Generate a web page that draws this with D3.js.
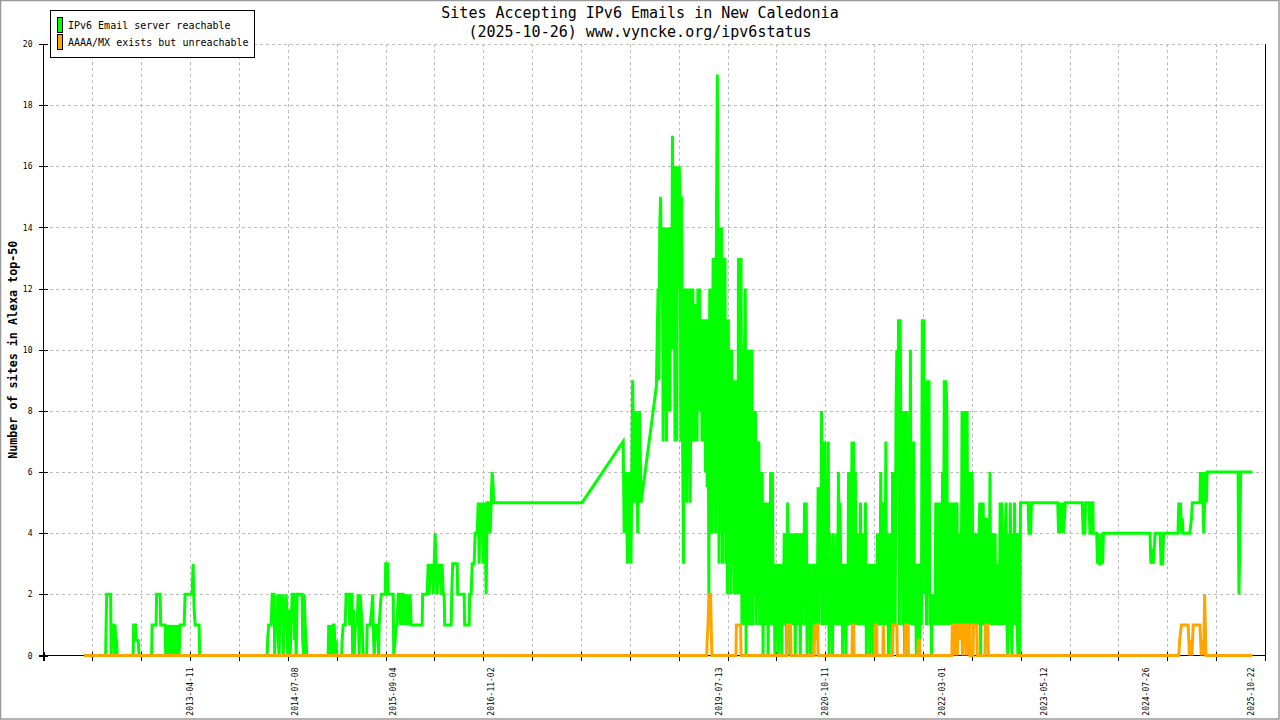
<!DOCTYPE html>
<meta charset="utf-8">
<html>
<style>
body { margin: 0; background: #fff; }
svg { display: block; background: #fff; font-family: "DejaVu Sans Mono", monospace; }
.grid line { stroke: #bdbdbd; stroke-width: 1; stroke-dasharray: 3,3; shape-rendering: crispEdges; }
.axis line { stroke: #000; shape-rendering: crispEdges; }
.series { fill: none; stroke-width: 3; }
</style>
<body>
<script src="https://cdnjs.cloudflare.com/ajax/libs/d3/7.8.5/d3.min.js"></script>
<script>
	// dates written on the time axis
	var xLabels = ["2013-04-11", "2014-07-08", "2015-09-04", "2016-11-02", "2019-07-13",
		"2020-10-11", "2022-03-01", "2023-05-12", "2024-07-26", "2025-10-22"];
	var xDomain = ["2011-07-18", "2025-12-20"];
	var yTicks = [0, 2, 4, 6, 8, 10, 12, 14, 16, 18, 20];

	var seriesNames = ["IPv6 Email server reachable", "AAAA/MX exists but unreachable"];
	var seriesColors = ["#00ff00", "#ffa500"];

	// [decimal year, sites]
	var reachable = [
		[2012.022,0],[2012.276,0],[2012.288,2],[2012.335,2],[2012.341,0],[2012.353,1],[2012.376,1],[2012.382,0],[2012.388,1],[2012.394,0.5],[2012.406,0.5],[2012.412,0],
		[2012.601,0],[2012.607,1],[2012.630,1],[2012.636,0.5],[2012.660,0.5],[2012.672,0],
		[2012.819,0],[2012.825,1],[2012.872,1],[2012.878,2],[2012.920,2],[2012.926,1],[2012.979,1],[2012.985,0],[2012.997,1],[2013.002,0],[2013.014,1],[2013.026,0.5],[2013.038,0],[2013.050,1],[2013.061,0.5],[2013.073,0],[2013.085,1],[2013.097,0.5],[2013.109,0],[2013.120,1],[2013.132,0.5],[2013.144,0],[2013.156,1],[2013.203,1],[2013.215,2],[2013.298,2],[2013.309,3],[2013.321,1.5],[2013.333,1],[2013.380,1],[2013.386,0],
		[2014.183,0],[2014.189,0.5],[2014.201,1],[2014.231,1],[2014.243,2],[2014.266,2],[2014.272,0],[2014.278,1],[2014.302,1],[2014.308,2],[2014.314,0.5],[2014.325,0],[2014.337,2],[2014.349,1.5],[2014.361,1],[2014.367,2],[2014.373,0],[2014.384,1],[2014.396,1.5],[2014.408,2],[2014.420,1],[2014.426,0],[2014.432,1],[2014.443,1.5],[2014.455,0],[2014.467,1],[2014.479,2],[2014.502,2],[2014.508,0.5],[2014.514,1.5],[2014.526,0],[2014.538,2],[2014.597,2],[2014.603,0.5],[2014.615,0],[2014.621,2],[2014.632,1],[2014.644,0.5],[2014.650,0],
		[2014.904,0],[2014.910,1],[2014.922,0.5],[2014.928,0],[2014.940,1],[2014.951,0],[2014.963,1],[2014.975,1],[2014.987,0],[2014.999,0.5],[2015.004,0],
		[2015.063,0],[2015.069,0.5],[2015.081,1],[2015.105,1],[2015.116,2],[2015.152,2],[2015.158,1],[2015.164,2],[2015.187,2],[2015.193,0],[2015.205,1.5],[2015.211,0],[2015.223,1],[2015.246,1],[2015.258,2],[2015.270,0],[2015.282,2],[2015.294,1.5],[2015.305,1],[2015.317,0],
		[2015.359,0],[2015.364,1],[2015.400,1],[2015.418,1.5],[2015.430,2],[2015.435,1],[2015.447,0],[2015.459,0.5],[2015.471,1],[2015.494,1],[2015.500,0],[2015.506,1],[2015.518,1.5],[2015.530,2],[2015.577,2],[2015.583,3],[2015.607,3],[2015.613,2],[2015.672,2],[2015.678,0],[2015.695,0.5],[2015.707,1],[2015.719,1],[2015.731,2],[2015.754,2],[2015.760,1],[2015.766,2],[2015.790,2],[2015.796,1],[2015.802,1.5],[2015.813,2],[2015.825,1],[2015.837,2],[2015.849,1],[2015.861,1.5],[2015.872,2],[2015.884,1],
		[2016.014,1],[2016.020,2],[2016.073,2],[2016.085,3],[2016.097,2],[2016.108,3],[2016.120,2.5],[2016.132,3],[2016.144,2],[2016.156,3],[2016.167,4],[2016.179,3],[2016.191,2],[2016.203,3],[2016.215,2.5],[2016.226,3],[2016.238,2],[2016.250,3],[2016.262,2],[2016.274,2],[2016.280,1],[2016.357,1],[2016.363,2],[2016.375,3],[2016.428,3],[2016.434,2],[2016.510,2],[2016.516,1],[2016.569,1],[2016.575,2],[2016.593,2],[2016.605,3],[2016.628,3],[2016.640,4],[2016.664,4],[2016.676,5],[2016.687,3],[2016.699,5],[2016.711,4],[2016.723,5],[2016.735,3],[2016.746,5],[2016.758,4],[2016.770,2],[2016.782,5],[2016.794,5],[2016.817,4],[2016.829,5],[2016.841,6],[2016.853,5.5],[2016.859,5],
		[2017.903,5],[2018.388,7],
		[2018.40,4],[2018.42,6],[2018.44,3],[2018.46,6],[2018.48,3],[2018.50,9],[2018.52,5],[2018.54,8],[2018.56,4],[2018.58,8],[2018.60,5],[2018.78,8.8],
		[2018.80,12],[2018.81,9],[2018.82,14],[2018.83,15],[2018.84,12],[2018.85,14],[2018.86,7],[2018.87,14],[2018.88,8],[2018.89,14],
		[2018.90,7],[2018.91,14],[2018.92,8],[2018.93,14],[2018.94,8],[2018.95,14],[2018.96,10],[2018.97,17],[2018.98,10],[2018.99,16],
		[2019.00,7],[2019.01,16],[2019.02,7],[2019.03,16],[2019.04,12],[2019.05,16],[2019.06,15],[2019.07,7],[2019.08,15],[2019.09,7],
		[2019.10,3],[2019.11,12],[2019.12,6],[2019.13,12],[2019.14,5],[2019.15,12],[2019.16,6],[2019.17,12],[2019.18,5],[2019.19,12],
		[2019.20,7],[2019.21,12],[2019.22,7],[2019.23,11.5],[2019.24,7],[2019.25,11.5],[2019.26,7],[2019.27,12],[2019.28,8],[2019.29,12],
		[2019.30,8],[2019.31,11],[2019.32,7],[2019.33,11],[2019.34,7],[2019.35,11],[2019.36,6],[2019.37,11],[2019.38,5.5],[2019.39,11],
		[2019.40,2],[2019.41,12],[2019.42,4],[2019.43,12],[2019.44,4],[2019.45,13],[2019.46,5],[2019.47,13],[2019.48,4],[2019.49,14.5],
		[2019.50,19],[2019.51,14],[2019.52,3],[2019.53,14],[2019.54,4],[2019.55,14],[2019.56,3],[2019.57,13],[2019.58,4],[2019.59,13],
		[2019.60,3],[2019.61,11],[2019.62,2],[2019.63,11],[2019.64,3],[2019.65,10],[2019.66,2],[2019.67,10],[2019.68,3],[2019.69,9],
		[2019.70,2],[2019.71,9],[2019.72,2],[2019.73,9],[2019.74,2],[2019.75,13],[2019.76,2],[2019.77,10],[2019.78,13],[2019.79,1],
		[2019.80,10],[2019.81,1],[2019.82,10],[2019.83,12],[2019.84,0],[2019.85,10],[2019.86,1],[2019.87,10],[2019.88,1],[2019.89,10],
		[2019.90,1],[2019.91,10],[2019.92,1],[2019.93,8],[2019.94,2],[2019.95,8],[2019.96,1],[2019.97,7],[2019.98,2],[2019.99,7],
		[2020.00,1],[2020.01,6],[2020.02,1],[2020.03,6],[2020.04,0],[2020.05,5],[2020.06,1],[2020.07,5],[2020.08,1],[2020.09,5],
		[2020.10,0],[2020.11,5],[2020.12,1],[2020.13,6],[2020.14,1],[2020.15,6],[2020.16,1],[2020.17,3],[2020.18,0],[2020.19,3],
		[2020.20,1],[2020.21,3],[2020.22,0],[2020.23,3],[2020.24,1],[2020.25,3],[2020.26,0],[2020.27,3],[2020.28,1],[2020.29,4],
		[2020.30,1],[2020.31,4],[2020.32,0],[2020.33,5],[2020.34,1],[2020.35,4],[2020.36,0],[2020.37,4],[2020.38,1],[2020.39,4],
		[2020.40,1],[2020.41,4],[2020.42,0],[2020.43,4],[2020.44,1],[2020.45,4],[2020.46,1],[2020.47,4],[2020.48,0],[2020.49,4],
		[2020.50,1],[2020.51,4],[2020.52,2],[2020.53,5],[2020.54,1],[2020.55,5],[2020.56,0],[2020.57,3],[2020.58,1],[2020.59,3],
		[2020.60,0],[2020.61,2],[2020.62,1],[2020.63,3],[2020.64,0],[2020.65,3],[2020.66,1],[2020.67,3],[2020.68,1],[2020.69,5.5],
		[2020.70,1],[2020.71,5.5],[2020.72,2],[2020.73,8],[2020.74,1],[2020.75,7],[2020.76,1],[2020.77,7],[2020.78,1],[2020.79,4],
		[2020.80,1],[2020.81,7],[2020.82,0],[2020.83,4],[2020.84,1],[2020.85,3],[2020.86,0],[2020.87,4],[2020.88,1],[2020.89,3],
		[2020.90,1],[2020.91,4],[2020.92,1],[2020.93,6],[2020.94,1],[2020.95,5],[2020.96,1],[2020.97,3],[2020.98,0],[2020.99,3],
		[2021.00,1],[2021.01,3],[2021.02,0],[2021.03,3],[2021.04,1],[2021.05,6],[2021.06,1],[2021.07,6],[2021.08,1],[2021.09,7],
		[2021.10,1],[2021.11,7],[2021.12,1],[2021.13,6],[2021.14,1],[2021.15,4],[2021.16,1],[2021.17,4],[2021.18,1],[2021.19,5],
		[2021.20,1],[2021.21,4],[2021.22,1],[2021.23,4],[2021.24,1],[2021.25,5],[2021.26,0],[2021.27,3],[2021.28,1],[2021.29,3],
		[2021.30,0],[2021.31,3],[2021.32,1],[2021.33,3],[2021.34,0],[2021.35,3],[2021.36,1],[2021.37,3],[2021.38,0],[2021.39,4],
		[2021.40,1],[2021.41,4],[2021.42,1],[2021.43,6],[2021.44,1],[2021.45,5],[2021.46,1],[2021.47,5],[2021.48,1],[2021.49,7],
		[2021.50,1],[2021.51,4],[2021.52,0],[2021.53,4],[2021.54,1],[2021.55,4],[2021.56,0],[2021.57,6],[2021.58,1],[2021.59,6],
		[2021.60,1],[2021.61,8],[2021.62,10],[2021.63,6],[2021.64,11],[2021.65,1],[2021.66,11],[2021.67,5],[2021.68,8],[2021.69,1],
		[2021.70,8],[2021.71,0],[2021.72,8],[2021.73,1],[2021.74,8],[2021.75,0],[2021.76,7],[2021.77,1],[2021.78,10],[2021.79,1],
		[2021.80,7],[2021.81,1],[2021.82,7],[2021.83,1],[2021.84,3],[2021.85,0],[2021.86,3],[2021.87,1],[2021.88,3],[2021.89,0],
		[2021.90,3],[2021.91,1],[2021.92,11],[2021.93,3],[2021.94,11],[2021.95,2],[2021.96,6],[2021.97,1],[2021.98,9],[2021.99,2],
		[2022.00,9],[2022.01,1],[2022.02,2],[2022.03,0],[2022.04,2],[2022.05,1],[2022.06,2],[2022.07,1],[2022.08,5],[2022.09,1],
		[2022.10,5],[2022.11,1],[2022.12,5],[2022.13,1],[2022.14,5],[2022.15,1],[2022.16,6],[2022.17,1],[2022.18,9],[2022.19,1],
		[2022.20,9],[2022.21,8],[2022.22,1],[2022.23,5],[2022.24,1],[2022.25,5],[2022.26,1],[2022.27,5],[2022.28,1],[2022.29,5],
		[2022.30,1],[2022.31,5],[2022.32,1],[2022.33,5],[2022.34,1],[2022.35,4],[2022.36,1],[2022.37,4],[2022.38,1],[2022.39,8],
		[2022.40,1],[2022.41,8],[2022.42,1],[2022.43,8],[2022.44,1],[2022.45,8],[2022.46,1],[2022.47,6],[2022.48,0],[2022.49,6],
		[2022.50,1],[2022.51,6],[2022.52,1],[2022.53,4],[2022.54,1],[2022.55,4],[2022.56,1],[2022.57,4],[2022.58,1],[2022.59,4],
		[2022.60,5],[2022.61,0],[2022.62,5],[2022.63,1],[2022.64,5],[2022.65,1],[2022.66,4.5],[2022.67,1],[2022.68,4.5],[2022.69,1],
		[2022.70,4],[2022.71,1],[2022.72,6],[2022.73,1],[2022.74,4],[2022.75,1],[2022.76,4],[2022.77,1],[2022.78,4],[2022.79,1],
		[2022.80,3],[2022.81,1],[2022.82,3],[2022.83,1],[2022.84,5],[2022.85,1],[2022.86,5],[2022.87,1],[2022.88,4],[2022.89,1],
		[2022.90,4],[2022.91,5],[2022.92,1],[2022.93,0],[2022.94,4],[2022.95,1],[2022.96,5],[2022.97,1],[2022.98,0],[2022.99,4],
		[2023.00,1],[2023.01,5],[2023.02,1],[2023.03,4],[2023.04,1],[2023.05,0],[2023.06,4],[2023.07,0],[2023.08,5],
		[2023.17,5],[2023.18,4],[2023.20,4],[2023.21,5],[2023.52,5],[2023.53,4],[2023.55,5],[2023.56,4],[2023.58,5],[2023.59,4],[2023.61,5],[2023.81,5],[2023.82,4],[2023.84,4],[2023.85,5],[2023.89,5],[2023.90,4],[2023.915,4],[2023.92,5],[2023.935,5],[2023.94,4],[2023.98,4],[2023.99,3],
		[2024.00,4],[2024.01,3],[2024.03,3],[2024.04,4],[2024.05,3],[2024.06,4],[2024.61,4],[2024.62,3],[2024.64,3.5],[2024.65,3],[2024.67,4],[2024.73,4],[2024.74,3],[2024.76,3],[2024.77,4],[2024.94,4],[2024.95,5],[2024.96,4.5],[2024.97,5],[2024.98,4],[2024.99,4.5],
		[2025.00,4],[2025.08,4],[2025.10,4.5],[2025.11,5],[2025.20,5],[2025.205,6],[2025.215,5.5],[2025.225,6],[2025.235,5],[2025.245,4],[2025.255,5],[2025.265,6],[2025.275,5],[2025.285,6],[2025.65,6],[2025.66,2],[2025.67,3.5],[2025.68,6],[2025.82,6]
	];

	var unreachable = [
		[2012.022,0],[2019.375,0],[2019.38,0.5],[2019.39,1],[2019.40,2],[2019.42,2],[2019.435,0],
		[2019.72,0],[2019.725,1],[2019.775,1],[2019.78,0],
		[2020.32,0],[2020.325,1],[2020.365,1],[2020.37,0],
		[2020.64,0],[2020.645,1],[2020.655,0.5],[2020.665,1],[2020.685,1],[2020.69,0],
		[2021.09,0],[2021.095,1],[2021.11,1],[2021.115,0],
		[2021.36,0],[2021.365,1],[2021.38,1],[2021.385,0],
		[2021.455,0],[2021.46,1],[2021.47,0],
		[2021.57,0],[2021.575,1],[2021.62,1],[2021.625,0],
		[2021.715,0],[2021.72,1],[2021.75,1],[2021.755,0],
		[2021.87,0],[2021.875,0.5],[2021.885,0.5],[2021.89,0],
		[2022.27,0],[2022.275,1],[2022.29,1],[2022.295,0],[2022.30,1],[2022.31,0.5],[2022.315,0],[2022.32,1],[2022.33,1],[2022.335,0],[2022.34,1],[2022.36,1],[2022.365,0.5],[2022.37,1],[2022.39,1],[2022.395,0],[2022.40,1],[2022.43,1],[2022.435,0],[2022.44,1],[2022.46,1],[2022.465,0],[2022.47,1],[2022.48,1],[2022.485,0],
		[2022.52,0],[2022.525,1],[2022.565,1],[2022.57,0],
		[2022.66,0],[2022.665,1],[2022.695,1],[2022.70,0],
		[2024.95,0],[2024.96,0.5],[2024.98,1],[2025.06,1],[2025.075,0],[2025.09,0.5],[2025.105,0],[2025.12,1],[2025.20,1],[2025.215,0],[2025.23,0.5],[2025.245,0],[2025.255,2],[2025.27,0],[2025.82,0]
	];

	var width = 1280;
	var height = 720;
	var plotLeft = 43.5, plotRight = 1265, plotTop = 44, plotBottom = 655.5;

	var parseDate = d3.utcParse("%Y-%m-%d");

	function yearToDate(y) {
		return new Date(Date.UTC(2011, 0, 1) + (y - 2011) * 365.25 * 864e5);
	}

	var x = d3.scaleUtc()
		.domain(xDomain.map(parseDate))
		.range([plotLeft, plotRight]);

	var y = d3.scaleLinear()
		.domain([0, 20])
		.range([plotBottom, plotTop]);

	// evenly spaced tick marks along the time axis
	var d0 = x.domain()[0].getTime(), d1 = x.domain()[1].getTime();
	var xTicks = d3.range(26).map(i => new Date(d0 + i * (d1 - d0) / 25));

	var svg = d3.select("body")
				.append("svg")
				.attr("width", width)
				.attr("height", height);

	svg.append("rect")
		.attr("x", 0.5).attr("y", 0.5)
		.attr("width", width - 1.5).attr("height", height - 1.5)
		.attr("fill", "#fff")
		.attr("stroke", "#999")
		.attr("stroke-width", 1.5);

	// grid
	var grid = svg.append("g").attr("class", "grid");
	grid.selectAll(".gx")
		.data(xTicks.slice(1, -1))
		.enter().append("line")
		.attr("x1", d => Math.round(x(d)) + 0.5).attr("x2", d => Math.round(x(d)) + 0.5)
		.attr("y1", plotTop).attr("y2", plotBottom);
	grid.selectAll(".gy")
		.data(yTicks.slice(1))
		.enter().append("line")
		.attr("x1", plotLeft).attr("x2", plotRight - 2)
		.attr("y1", d => Math.round(y(d)) + 0.5).attr("y2", d => Math.round(y(d)) + 0.5);

	// y axis
	var yAxis = svg.append("g")
		.attr("class", "axis")
		.attr("transform", "translate(" + plotLeft + ",0)")
		.call(d3.axisLeft(y).tickValues(yTicks).tickSizeInner(5).tickSizeOuter(0).tickPadding(6));
	yAxis.select(".domain").remove();
	yAxis.attr("font-family", null).attr("font-size", 8);
	yAxis.selectAll(".tick line").attr("x1", 4).attr("x2", -5);
	yAxis.selectAll(".tick text").attr("fill", "#000");
	yAxis.append("line")
		.attr("x1", 0).attr("x2", 0)
		.attr("y1", plotTop).attr("y2", plotBottom + 5);

	// x axis
	var xAxis = svg.append("g")
		.attr("class", "axis")
		.attr("transform", "translate(0," + plotBottom + ")")
		.call(d3.axisBottom(x).tickValues(xTicks).tickFormat(() => "").tickSizeInner(5).tickSizeOuter(0));
	xAxis.select(".domain").remove();
	xAxis.selectAll(".tick line").attr("y1", -4).attr("y2", 5);
	xAxis.append("line")
		.attr("x1", plotLeft - 5).attr("x2", plotRight)
		.attr("y1", 0).attr("y2", 0);

	svg.append("line")
		.attr("class", "axis")
		.attr("x1", plotRight).attr("x2", plotRight)
		.attr("y1", plotTop).attr("y2", plotBottom + 5)
		.attr("stroke", "#000")
		.style("shape-rendering", "crispEdges");

	svg.append("g")
		.selectAll("text")
		.data(xLabels)
		.enter().append("text")
		.attr("transform", d => "translate(" + x(parseDate(d)) + "," + (plotBottom + 12) + ") rotate(-90)")
		.attr("text-anchor", "end")
		.attr("dominant-baseline", "middle")
		.attr("font-size", 8)
		.text(d => d);

	// series, drawn over the axis line
	var line = d3.line()
		.x(d => x(yearToDate(d[0])))
		.y(d => y(d[1]));

	svg.append("path")
		.datum(reachable)
		.attr("class", "series")
		.attr("stroke", seriesColors[0])
		.attr("d", line);

	svg.append("path")
		.datum(unreachable)
		.attr("class", "series")
		.attr("stroke", seriesColors[1])
		.attr("d", line);

	// axis title
	svg.append("text")
		.attr("transform", "translate(13," + ((plotTop + plotBottom) / 2) + ") rotate(-90)")
		.attr("text-anchor", "middle")
		.attr("dominant-baseline", "middle")
		.attr("font-size", 11.7)
		.attr("font-weight", "bold")
		.text("Number of sites in Alexa top-50");

	// title
	svg.append("text")
		.attr("x", width / 2).attr("y", 13)
		.attr("text-anchor", "middle")
		.attr("dominant-baseline", "middle")
		.attr("font-size", 15)
		.text("Sites Accepting IPv6 Emails in New Caledonia");
	svg.append("text")
		.attr("x", width / 2).attr("y", 32)
		.attr("text-anchor", "middle")
		.attr("dominant-baseline", "middle")
		.attr("font-size", 15)
		.text("(2025-10-26) www.vyncke.org/ipv6status");

	// legend
	var legend = svg.append("g").attr("transform", "translate(50.5,10.5)");
	legend.append("rect")
		.attr("width", 204).attr("height", 47)
		.attr("fill", "#fff").attr("stroke", "#000");
	var items = legend.selectAll(".item")
		.data(seriesNames)
		.enter().append("g")
		.attr("transform", (d, i) => "translate(0," + (i * 17) + ")");
	items.append("rect")
		.attr("x", 7).attr("y", 7)
		.attr("width", 5).attr("height", 15)
		.attr("fill", (d, i) => seriesColors[i])
		.attr("stroke", "#000");
	items.append("text")
		.attr("x", 17.5).attr("y", 15.5)
		.attr("dominant-baseline", "middle")
		.attr("font-size", 10)
		.text(d => d);
</script>
</body>
</html>
